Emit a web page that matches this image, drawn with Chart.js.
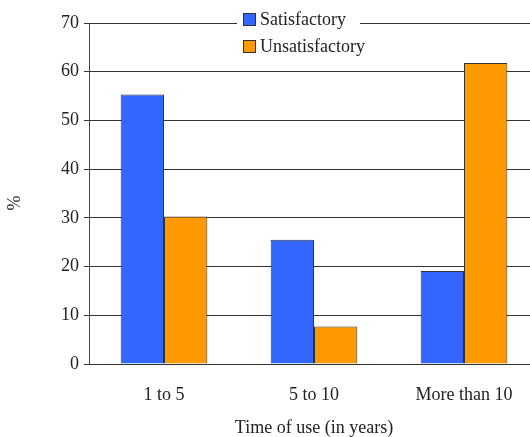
<!DOCTYPE html>
<html><head><meta charset="utf-8">
<script src="https://cdn.jsdelivr.net/npm/chart.js@4/dist/chart.umd.min.js"></script>
<style>
html,body{margin:0;padding:0;background:#fff;overflow:hidden;}
#wrap{width:539px;height:437px;position:relative;}
</style></head>
<body><div id="wrap"><canvas id="c"></canvas></div>
<script>
const categories = ["1 to 5", "5 to 10", "More than 10"];
const satisfactory = [55.3, 25.5, 19.1];
const unsatisfactory = [30.3, 7.7, 61.8];
const seriesNames = ["Satisfactory", "Unsatisfactory"];
const yTicks = [0, 10, 20, 30, 40, 50, 60, 70];
const xTitle = "Time of use (in years)";
const yTitle = "%";

const FONT = "'Liberation Serif', 'Times New Roman', serif";

const legendPlugin = {
  id: 'boxLegend',
  afterDraw(chart) {
    const ctx = chart.ctx;
    ctx.save();
    ctx.fillStyle = '#fff';
    ctx.fillRect(237, 8, 123, 50);
    const ds = chart.data.datasets;
    ds.forEach((d, i) => {
      const y = 20 + i * 27;
      ctx.fillStyle = d.backgroundColor;
      ctx.fillRect(243.5, y - 6.5, 12, 12);
      ctx.strokeStyle = '#333';
      ctx.lineWidth = 1;
      ctx.strokeRect(243.5, y - 6.5, 12, 12);
      ctx.fillStyle = '#222';
      ctx.font = "18px " + FONT;
      ctx.textBaseline = 'middle';
      ctx.textAlign = 'left';
      ctx.fillText(d.label, 260, y);
    });
    // y axis title
    ctx.translate(15.5, 203);
    ctx.rotate(-Math.PI / 2);
    ctx.textAlign = 'center';
    ctx.textBaseline = 'middle';
    ctx.fillStyle = '#222';
    ctx.font = "18px " + FONT;
    ctx.fillText(yTitle, 0, 0);
    ctx.restore();
  }
};

new Chart(document.getElementById('c'), {
  type: 'bar',
  data: {
    labels: categories,
    datasets: [
      { label: seriesNames[0], data: satisfactory, backgroundColor: '#3366FF', borderColor: '#333', borderWidth: 1 },
      { label: seriesNames[1], data: unsatisfactory, backgroundColor: '#FF9900', borderColor: '#333', borderWidth: 1 }
    ]
  },
  options: {
    responsive: true,
    maintainAspectRatio: false,
    animation: false,
    layout: { padding: { top: 23, right: 0, left: 0, bottom: 0 } },
    plugins: { legend: { display: false }, tooltip: { enabled: false } },
    datasets: { bar: { categoryPercentage: 0.578, barPercentage: 1 } },
    scales: {
      x: {
        grid: { display: false, drawTicks: false },
        border: { display: true, color: '#333', width: 1 },
        ticks: { color: '#222', font: { family: FONT, size: 18 }, padding: 20 },
        title: { display: true, text: xTitle, color: '#222', font: { family: FONT, size: 18 }, padding: { top: 0, bottom: -2 } },
        afterFit(s) { s.height = 73; }
      },
      y: {
        min: 0, max: 70,
        afterBuildTicks(s) { s.ticks = yTicks.map(v => ({ value: v })); },
        grid: { color: '#333', lineWidth: 1, tickLength: 5, tickColor: '#333' },
        border: { display: true, color: '#444', width: 1 },
        ticks: { color: '#222', font: { family: FONT, size: 18 }, padding: 5 },
        title: { display: false },
        afterFit(s) { s.width = 89; }
      }
    }
  },
  plugins: [legendPlugin]
});
</script></body></html>
